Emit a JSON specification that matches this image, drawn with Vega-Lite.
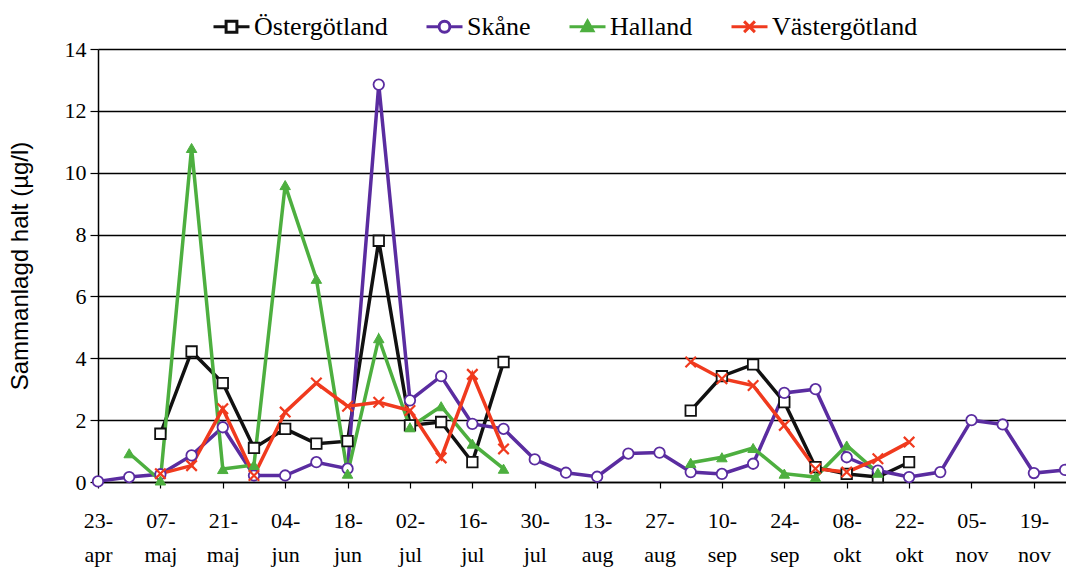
{
  "$schema": "https://vega.github.io/schema/vega-lite/v6.json",
  "autosize": "none",
  "width": 968,
  "height": 433,
  "padding": {"left": 98, "top": 49, "right": 0, "bottom": 90},
  "background": "white",
  "config": {
    "view": {"stroke": null},
    "axis": {"labelFont": "Liberation Serif", "labelFontSize": 22, "labelColor": "black", "titleFont": "Liberation Sans", "titleFontWeight": "normal", "titleColor": "black", "domainColor": "black", "tickColor": "black"},
    "legend": {"labelFont": "Liberation Serif", "labelFontSize": 26, "labelColor": "black"}
  },
  "data": {
    "values": [
      {"date": "2012-05-07", "region": "Östergötland", "value": 1.56},
      {"date": "2012-05-14", "region": "Östergötland", "value": 4.22},
      {"date": "2012-05-21", "region": "Östergötland", "value": 3.2},
      {"date": "2012-05-28", "region": "Östergötland", "value": 1.1},
      {"date": "2012-06-04", "region": "Östergötland", "value": 1.72},
      {"date": "2012-06-11", "region": "Östergötland", "value": 1.24},
      {"date": "2012-06-18", "region": "Östergötland", "value": 1.32},
      {"date": "2012-06-25", "region": "Östergötland", "value": 7.8},
      {"date": "2012-07-02", "region": "Östergötland", "value": 1.83},
      {"date": "2012-07-09", "region": "Östergötland", "value": 1.94},
      {"date": "2012-07-16", "region": "Östergötland", "value": 0.64},
      {"date": "2012-07-23", "region": "Östergötland", "value": 3.88},
      {"date": "2012-07-30", "region": "Östergötland", "value": null},
      {"date": "2012-09-03", "region": "Östergötland", "value": 2.31},
      {"date": "2012-09-10", "region": "Östergötland", "value": 3.42},
      {"date": "2012-09-17", "region": "Östergötland", "value": 3.8},
      {"date": "2012-09-24", "region": "Östergötland", "value": 2.58},
      {"date": "2012-10-01", "region": "Östergötland", "value": 0.48},
      {"date": "2012-10-08", "region": "Östergötland", "value": 0.26},
      {"date": "2012-10-15", "region": "Östergötland", "value": 0.16},
      {"date": "2012-10-22", "region": "Östergötland", "value": 0.64},

      {"date": "2012-04-23", "region": "Skåne", "value": 0.02},
      {"date": "2012-04-30", "region": "Skåne", "value": 0.16},
      {"date": "2012-05-07", "region": "Skåne", "value": 0.25},
      {"date": "2012-05-14", "region": "Skåne", "value": 0.86},
      {"date": "2012-05-21", "region": "Skåne", "value": 1.77},
      {"date": "2012-05-28", "region": "Skåne", "value": 0.21},
      {"date": "2012-06-04", "region": "Skåne", "value": 0.21},
      {"date": "2012-06-11", "region": "Skåne", "value": 0.64},
      {"date": "2012-06-18", "region": "Skåne", "value": 0.43},
      {"date": "2012-06-25", "region": "Skåne", "value": 12.85},
      {"date": "2012-07-02", "region": "Skåne", "value": 2.64},
      {"date": "2012-07-09", "region": "Skåne", "value": 3.42},
      {"date": "2012-07-16", "region": "Skåne", "value": 1.88},
      {"date": "2012-07-23", "region": "Skåne", "value": 1.72},
      {"date": "2012-07-30", "region": "Skåne", "value": 0.73},
      {"date": "2012-08-06", "region": "Skåne", "value": 0.3},
      {"date": "2012-08-13", "region": "Skåne", "value": 0.17},
      {"date": "2012-08-20", "region": "Skåne", "value": 0.92},
      {"date": "2012-08-27", "region": "Skåne", "value": 0.95},
      {"date": "2012-09-03", "region": "Skåne", "value": 0.32},
      {"date": "2012-09-10", "region": "Skåne", "value": 0.26},
      {"date": "2012-09-17", "region": "Skåne", "value": 0.59},
      {"date": "2012-09-24", "region": "Skåne", "value": 2.88},
      {"date": "2012-10-01", "region": "Skåne", "value": 3.0},
      {"date": "2012-10-08", "region": "Skåne", "value": 0.8},
      {"date": "2012-10-15", "region": "Skåne", "value": 0.37},
      {"date": "2012-10-22", "region": "Skåne", "value": 0.16},
      {"date": "2012-10-29", "region": "Skåne", "value": 0.32},
      {"date": "2012-11-05", "region": "Skåne", "value": 2.0},
      {"date": "2012-11-12", "region": "Skåne", "value": 1.86},
      {"date": "2012-11-19", "region": "Skåne", "value": 0.29},
      {"date": "2012-11-26", "region": "Skåne", "value": 0.39},

      {"date": "2012-04-30", "region": "Halland", "value": 0.93},
      {"date": "2012-05-07", "region": "Halland", "value": 0.05},
      {"date": "2012-05-14", "region": "Halland", "value": 10.8},
      {"date": "2012-05-21", "region": "Halland", "value": 0.42},
      {"date": "2012-05-28", "region": "Halland", "value": 0.55},
      {"date": "2012-06-04", "region": "Halland", "value": 9.6},
      {"date": "2012-06-11", "region": "Halland", "value": 6.57},
      {"date": "2012-06-18", "region": "Halland", "value": 0.27},
      {"date": "2012-06-25", "region": "Halland", "value": 4.65},
      {"date": "2012-07-02", "region": "Halland", "value": 1.77},
      {"date": "2012-07-09", "region": "Halland", "value": 2.45},
      {"date": "2012-07-16", "region": "Halland", "value": 1.24},
      {"date": "2012-07-23", "region": "Halland", "value": 0.43},
      {"date": "2012-07-30", "region": "Halland", "value": null},
      {"date": "2012-09-03", "region": "Halland", "value": 0.62},
      {"date": "2012-09-10", "region": "Halland", "value": 0.8},
      {"date": "2012-09-17", "region": "Halland", "value": 1.1},
      {"date": "2012-09-24", "region": "Halland", "value": 0.27},
      {"date": "2012-10-01", "region": "Halland", "value": 0.16},
      {"date": "2012-10-08", "region": "Halland", "value": 1.18},
      {"date": "2012-10-15", "region": "Halland", "value": 0.3},

      {"date": "2012-05-07", "region": "Västergötland", "value": 0.27},
      {"date": "2012-05-14", "region": "Västergötland", "value": 0.53},
      {"date": "2012-05-21", "region": "Västergötland", "value": 2.37},
      {"date": "2012-05-28", "region": "Västergötland", "value": 0.21},
      {"date": "2012-06-04", "region": "Västergötland", "value": 2.26},
      {"date": "2012-06-11", "region": "Västergötland", "value": 3.2},
      {"date": "2012-06-18", "region": "Västergötland", "value": 2.45},
      {"date": "2012-06-25", "region": "Västergötland", "value": 2.58},
      {"date": "2012-07-02", "region": "Västergötland", "value": 2.31},
      {"date": "2012-07-09", "region": "Västergötland", "value": 0.78},
      {"date": "2012-07-16", "region": "Västergötland", "value": 3.48},
      {"date": "2012-07-23", "region": "Västergötland", "value": 1.07},
      {"date": "2012-07-30", "region": "Västergötland", "value": null},
      {"date": "2012-09-03", "region": "Västergötland", "value": 3.88},
      {"date": "2012-09-10", "region": "Västergötland", "value": 3.34},
      {"date": "2012-09-17", "region": "Västergötland", "value": 3.12},
      {"date": "2012-09-24", "region": "Västergötland", "value": 1.83},
      {"date": "2012-10-01", "region": "Västergötland", "value": 0.43},
      {"date": "2012-10-08", "region": "Västergötland", "value": 0.32},
      {"date": "2012-10-15", "region": "Västergötland", "value": 0.75},
      {"date": "2012-10-22", "region": "Västergötland", "value": 1.29}
    ]
  },
  "encoding": {
    "x": {
      "field": "date", "type": "temporal",
      "scale": {"type": "utc", "domain": [{"year": 2012, "month": 4, "date": 23, "utc": true}, {"year": 2012, "month": 11, "date": 26, "hours": 5, "utc": true}]},
      "axis": {
        "title": null, "grid": false, "domainWidth": 1.5, "tickSize": 6, "tickWidth": 1.2,
        "values": [
          {"year": 2012, "month": 4, "date": 23, "utc": true},
          {"year": 2012, "month": 5, "date": 7, "utc": true},
          {"year": 2012, "month": 5, "date": 21, "utc": true},
          {"year": 2012, "month": 6, "date": 4, "utc": true},
          {"year": 2012, "month": 6, "date": 18, "utc": true},
          {"year": 2012, "month": 7, "date": 2, "utc": true},
          {"year": 2012, "month": 7, "date": 16, "utc": true},
          {"year": 2012, "month": 7, "date": 30, "utc": true},
          {"year": 2012, "month": 8, "date": 13, "utc": true},
          {"year": 2012, "month": 8, "date": 27, "utc": true},
          {"year": 2012, "month": 9, "date": 10, "utc": true},
          {"year": 2012, "month": 9, "date": 24, "utc": true},
          {"year": 2012, "month": 10, "date": 8, "utc": true},
          {"year": 2012, "month": 10, "date": 22, "utc": true},
          {"year": 2012, "month": 11, "date": 5, "utc": true},
          {"year": 2012, "month": 11, "date": 19, "utc": true}
        ],
        "labelExpr": "[utcFormat(datum.value, '%d') + '-', ['jan','feb','mar','apr','maj','jun','jul','aug','sep','okt','nov','dec'][utcmonth(datum.value)]]",
        "labelLineHeight": 34, "labelPadding": 22, "labelBaseline": "top", "labelOverlap": false, "labelFlush": false
      }
    },
    "y": {
      "field": "value", "type": "quantitative",
      "scale": {"domain": [0, 14], "nice": false},
      "axis": {
        "title": "Sammanlagd halt (µg/l)", "titleFontSize": 24, "titlePadding": 32,
        "values": [0, 2, 4, 6, 8, 10, 12, 14],
        "grid": true, "gridColor": "black", "gridWidth": 1.3, "gridOpacity": 1,
        "domainWidth": 1.5, "tickSize": 8, "tickWidth": 1.2, "labelPadding": 4
      }
    }
  },
  "layer": [
    {
      "mark": {"type": "line", "strokeWidth": 3.5, "invalid": "break-paths-filter-domains"},
      "encoding": {
        "color": {
          "field": "region", "type": "nominal",
          "scale": {"domain": ["Östergötland", "Skåne", "Halland", "Västergötland"], "range": ["#111111", "#5a2ca0", "#4daf3f", "#f03a1e"]},
          "legend": {
            "orient": "none", "legendX": 114, "legendY": -42, "direction": "horizontal", "title": null,
            "symbolSize": 1296, "symbolStrokeWidth": 3, "labelOffset": 3, "columnPadding": 32,
            "encode": {
              "symbols": {
                "update": {
                  "shape": {"signal": "datum.value === 'Östergötland' ? 'M-1,0H-0.3M0.3,0H1M-0.3,-0.3H0.3V0.3H-0.3Z' : datum.value === 'Skåne' ? 'M-1,0H-0.3M0.3,0H1M0.3,0A0.3,0.3 0 1,1 -0.3,0A0.3,0.3 0 1,1 0.3,0Z' : datum.value === 'Halland' ? 'M-1,0H1M0,-0.32L0.3,0.22L-0.3,0.22Z' : 'M-1,0H1M-0.3,-0.3L0.3,0.3M-0.3,0.3L0.3,-0.3'"},
                  "fill": {"signal": "datum.value === 'Halland' ? '#4daf3f' : 'white'"},
                  "fillOpacity": {"value": 1},
                  "strokeWidth": {"value": 3}
                }
              }
            }
          }
        }
      }
    },
    {
      "transform": [{"filter": "datum.region === 'Östergötland' && isValid(datum.value)"}],
      "mark": {"type": "point", "shape": "square", "filled": true, "fill": "white", "stroke": "#111111", "strokeWidth": 1.8, "size": 110, "opacity": 1}
    },
    {
      "transform": [{"filter": "datum.region === 'Skåne' && isValid(datum.value)"}],
      "mark": {"type": "point", "shape": "circle", "filled": true, "fill": "white", "stroke": "#5a2ca0", "strokeWidth": 1.8, "size": 110, "opacity": 1}
    },
    {
      "transform": [{"filter": "datum.region === 'Halland' && isValid(datum.value)"}],
      "mark": {"type": "point", "shape": "triangle-up", "filled": true, "fill": "#4daf3f", "stroke": "#4daf3f", "strokeWidth": 1, "size": 110, "opacity": 1}
    },
    {
      "transform": [{"filter": "datum.region === 'Västergötland' && isValid(datum.value)"}],
      "mark": {"type": "point", "shape": "M-1,-1L1,1M-1,1L1,-1", "filled": false, "stroke": "#f03a1e", "strokeWidth": 2.2, "size": 110, "opacity": 1}
    }
  ]
}
